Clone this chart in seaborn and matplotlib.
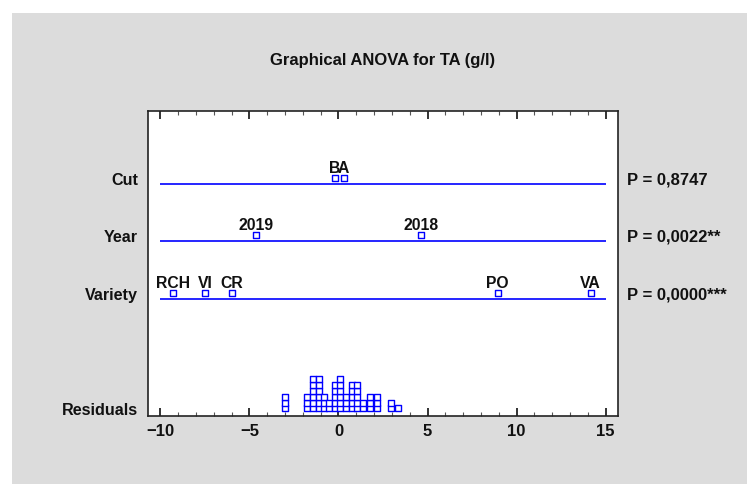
import numpy as np
import pandas as pd
import seaborn as sns
import matplotlib.pyplot as plt
import matplotlib.transforms as mtransforms
from matplotlib.patches import Rectangle
from matplotlib.ticker import MultipleLocator

# Efectos de cada factor
cut_levels = ["B", "A"]
cut_effects = [-0.20, 0.29]
year_levels = ["2019", "2018"]
year_effects = [-4.62, 4.65]
variety_levels = ["RCH", "VI", "CR", "PO", "VA"]
variety_effects = [-9.31, -7.48, -6.0, 8.94, 14.17]
factor_names = ["Cut", "Year", "Variety"]
p_labels = ["P = 0,8747", "P = 0,0022**", "P = 0,0000***"]

# Residuos agrupados (centro de columna y cantidad apilada)
residual_bins = [-3.0, -1.75, -1.42, -1.11, -0.80, -0.52, -0.21, 0.11, 0.41,
                 0.75, 1.05, 1.36, 1.77, 2.17, 2.96, 3.37]
residual_counts = [3, 3, 6, 6, 3, 2, 5, 6, 3, 5, 5, 2, 3, 3, 2, 1]

sns.set_theme(style="white")
plt.rcParams['font.family'] = ['Liberation Sans', 'DejaVu Sans']
plt.rcParams['font.weight'] = 'bold'

blue = "#0000ff"
txt = "#111111"
row_y = [232.3, 175.0, 117.0]   # altura de cada linea (en px desde abajo)
stack_base = 7.7
stack_step = 5.8

fig = plt.figure(figsize=(7.47, 4.85), dpi=100)
fig.patch.set_facecolor("white")
fig.patches.append(Rectangle((12 / 747, 0), 1, 471 / 485, transform=fig.transFigure,
                             facecolor="#dcdcdc", edgecolor="none", zorder=-10))
ax = fig.add_axes([148 / 747, 68 / 485, 470 / 747, 305 / 485])
ax.set_facecolor("white")

# Tabla con los puntos de efectos
rows = []
for name, levels, effects, y in zip(factor_names,
                                    [cut_levels, year_levels, variety_levels],
                                    [cut_effects, year_effects, variety_effects], row_y):
    for lev, eff in zip(levels, effects):
        rows.append({"factor": name, "level": lev, "x": eff, "y": y + 5.7})
df = pd.DataFrame(rows)

# Tabla de residuos apilados
res_x, res_y = [], []
for b, c in zip(residual_bins, residual_counts):
    for k in range(c):
        res_x.append(b)
        res_y.append(stack_base + k * stack_step)
df_res = pd.DataFrame({"x": res_x, "y": res_y})

for y in row_y:
    ax.hlines(y, -10, 15, color=blue, lw=1.2, zorder=1)

sns.scatterplot(data=df, x="x", y="y", marker="s", s=13, facecolor="white",
                edgecolor=blue, linewidth=1.0, ax=ax, zorder=3, legend=False)
sns.scatterplot(data=df_res, x="x", y="y", marker="s", s=17, facecolor="white",
                edgecolor=blue, linewidth=1.0, ax=ax, zorder=3, legend=False)

for _, r in df.iterrows():
    ax.annotate(r["level"], (r["x"], r["y"]), xytext=(0, 2.5), textcoords="offset points",
                ha="center", va="bottom", fontsize=11.3, fontweight="bold", color=txt)

trans = mtransforms.blended_transform_factory(ax.transAxes, ax.transData)
for name, y, p in zip(factor_names, row_y, p_labels):
    ax.text(-0.021, y + 6, name, transform=trans, ha="right", va="center_baseline",
            fontsize=11.6, fontweight="bold", color=txt)
    ax.text(1.019, y + 6, p, transform=trans, ha="left", va="center_baseline",
            fontsize=12, fontweight="bold", color=txt)
ax.text(-0.021, 7.5, "Residuals", transform=trans, ha="right", va="center_baseline",
        fontsize=11.6, fontweight="bold", color=txt)

ax.set_xlim(-10.7, 15.7)
ax.set_ylim(0, 305)
ax.xaxis.set_major_locator(MultipleLocator(5))
ax.xaxis.set_minor_locator(MultipleLocator(1))
ax.set_xticks([-10, -5, 0, 5, 10, 15])
ax.set_xticklabels(["\u221210", "\u22125", "0", "5", "10", "15"])
ax.tick_params(axis="x", which="major", direction="in", length=6, width=1.2,
               top=True, bottom=True, pad=5, labelsize=12, colors=txt)
ax.tick_params(axis="x", which="minor", direction="in", length=3, width=0.8,
               top=True, bottom=True, colors="#555555")
ax.tick_params(axis="y", left=False, labelleft=False)
for lab in ax.get_xticklabels():
    lab.set_fontweight("bold")
ax.set_xlabel("")
ax.set_ylabel("")
for s in ax.spines.values():
    s.set_color("#222222")
    s.set_linewidth(1.2)

fig.text(383 / 747, 1 - 60 / 485, "Graphical ANOVA for TA (g/l)", ha="center", va="center",
         fontsize=12, fontweight="bold", color=txt)

plt.savefig("out.png", dpi=100)
